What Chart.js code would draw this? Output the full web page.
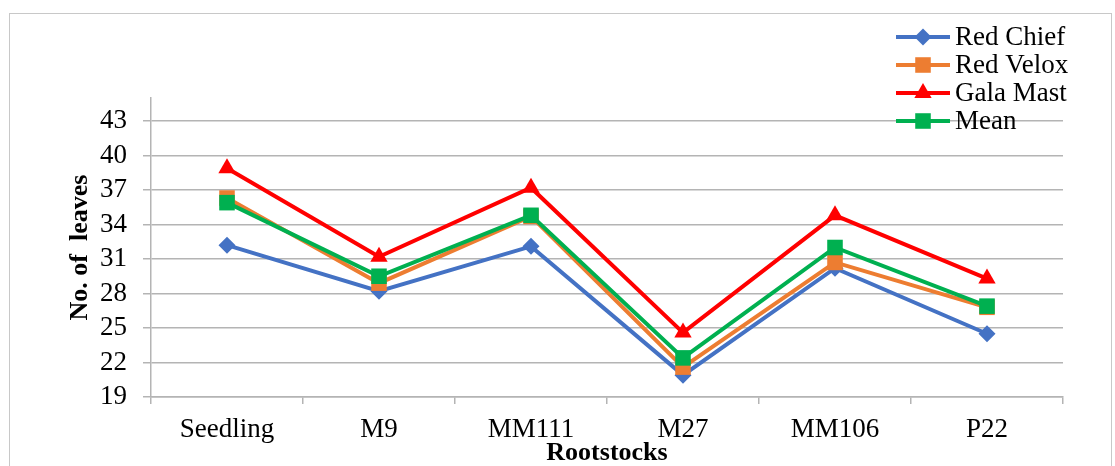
<!DOCTYPE html>
<html lang="en">
<head>
    <meta charset="UTF-8">
    <title>No. of leaves by rootstock</title>
    <script src="https://cdn.jsdelivr.net/npm/chart.js"></script>
    <style>
        body {
            margin: 0;
            background: #ffffff;
        }
        .wrap {
            position: relative;
            width: 1115px;
            height: 466px;
            overflow: hidden;
        }
        .frame {
            position: absolute;
            left: 9px;
            top: 13px;
            width: 1103px;
            height: 470px;
            border: 1px solid #c8c8c8;
            box-sizing: border-box;
        }
        canvas {
            position: absolute;
            left: 0;
            top: 0;
        }
    </style>
</head>
<body>
    <div class="wrap">
        <div class="frame"></div>
        <canvas id="chart" width="1115" height="466"></canvas>
    </div>

    <script>
        const rootstocks = ["Seedling", "M9", "MM111", "M27", "MM106", "P22"];
        const redChief = [32.2, 28.2, 32.1, 20.9, 30.2, 24.5];
        const redVelox = [36.3, 28.9, 34.7, 21.6, 30.7, 26.8];
        const galaMast = [38.9, 31.2, 37.2, 24.6, 34.8, 29.3];
        const meanValues = [35.9, 29.5, 34.8, 22.4, 32.0, 26.9];
        const yTicks = [19, 22, 25, 28, 31, 34, 37, 40, 43];

        const serif = "'Liberation Serif', 'Times New Roman', serif";
        const gridColor = "#b4b4b4";

        // legend drawn as line + marker, like the original
        const lineLegend = {
            id: "lineLegend",
            afterDraw(chart) {
                const ctx = chart.ctx;
                ctx.save();
                chart.data.datasets.forEach((ds, i) => {
                    const y = 37 + i * 28;
                    ctx.strokeStyle = ds.borderColor;
                    ctx.lineWidth = ds.borderWidth;
                    ctx.beginPath();
                    ctx.moveTo(896, y);
                    ctx.lineTo(950, y);
                    ctx.stroke();
                    ctx.fillStyle = ds.backgroundColor;
                    Chart.helpers.drawPoint(ctx, {
                        pointStyle: ds.pointStyle,
                        radius: ds.pointRadius,
                        borderWidth: 0
                    }, 923, y);
                    ctx.fillStyle = "#000000";
                    ctx.font = "27px " + serif;
                    ctx.textAlign = "left";
                    ctx.textBaseline = "middle";
                    ctx.fillText(ds.label, 955, y + 1);
                });
                ctx.restore();
            }
        };

        function series(label, data, color, style, radius, order) {
            return {
                label: label,
                data: data,
                borderColor: color,
                backgroundColor: color,
                borderWidth: 4,
                pointStyle: style,
                pointRadius: radius,
                pointHoverRadius: radius,
                pointBorderWidth: 0,
                tension: 0,
                order: order
            };
        }

        const ctx = document.getElementById("chart").getContext("2d");
        new Chart(ctx, {
            type: "line",
            data: {
                labels: rootstocks,
                datasets: [
                    series("Red Chief", redChief, "#4472C4", "rectRot", 8.5, 4),
                    series("Red Velox", redVelox, "#ED7D31", "rect", 11, 3),
                    series("Gala Mast", galaMast, "#FF0000", "triangle", 10, 2),
                    series("Mean", meanValues, "#00B050", "rect", 11, 1)
                ]
            },
            options: {
                responsive: false,
                animation: false,
                layout: {
                    padding: { top: 98, right: 52, left: 0, bottom: 0 }
                },
                plugins: {
                    legend: { display: false },
                    tooltip: { enabled: false }
                },
                scales: {
                    x: {
                        offset: true,
                        grid: {
                            offset: true,
                            drawOnChartArea: false,
                            drawTicks: true,
                            tickLength: 7,
                            color: gridColor,
                            lineWidth: 1.5
                        },
                        border: { display: true, color: gridColor, width: 1.5 },
                        ticks: {
                            color: "#000000",
                            font: { family: serif, size: 27 },
                            padding: 10,
                            maxRotation: 0
                        },
                        title: {
                            display: true,
                            text: "Rootstocks",
                            color: "#000000",
                            font: { family: serif, size: 26, weight: "bold", lineHeight: 1 },
                            padding: { top: 0, bottom: 0 }
                        },
                        afterFit(scale) {
                            scale.height = 69;
                        }
                    },
                    y: {
                        min: 19,
                        max: 45,
                        afterBuildTicks(scale) {
                            scale.ticks = yTicks.map(v => ({ value: v }));
                        },
                        grid: {
                            color: gridColor,
                            lineWidth: 1.5,
                            tickLength: 8
                        },
                        border: { display: true, color: gridColor, width: 1.5 },
                        ticks: {
                            color: "#000000",
                            font: { family: serif, size: 27 },
                            padding: 16
                        },
                        title: {
                            display: true,
                            text: "No. of  leaves",
                            color: "#000000",
                            font: { family: serif, size: 26, weight: "bold", lineHeight: 1 },
                            padding: { top: 67, bottom: 0 }
                        },
                        afterFit(scale) {
                            scale.width = 151;
                        }
                    }
                }
            },
            plugins: [lineLegend]
        });
    </script>
</body>
</html>
